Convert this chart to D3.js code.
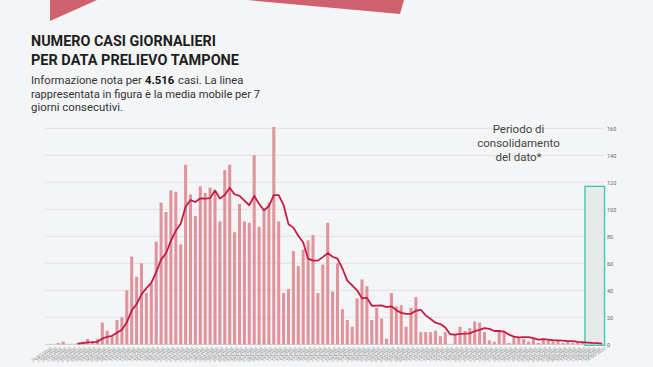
<!DOCTYPE html>
<html>
<head>
<meta charset="utf-8">
<script src="https://cdn.jsdelivr.net/npm/d3@7"></script>
<style>
  html, body { margin: 0; padding: 0; background: #f4f5f7; }
  svg { display: block; }
</style>
</head>
<body>
<svg id="chart" width="653" height="367"></svg>
<script>
// ---------- DATA ----------
const startDate = "2020-02-24";
const dailyCases = [
  0, 0, 1, 2, 0, 0, 1, 2, 4, 2,
  4, 16, 10, 6, 18, 20, 40, 65, 50, 60,
  38, 45, 76, 105, 98, 114, 113, 74, 133, 111,
  95, 117, 112, 116, 114, 91, 129, 133, 83, 104,
  91, 90, 140, 87, 100, 105, 161, 91, 38, 41,
  69, 58, 70, 77, 81, 38, 59, 90, 39, 60,
  26, 18, 13, 34, 48, 43, 18, 27, 19, 4,
  38, 28, 29, 13, 27, 35, 9, 9, 9, 10,
  6, 9, 0, 7, 13, 10, 12, 17, 16, 9,
  3, 2, 10, 9, 1, 6, 5, 4, 2, 5,
  1, 4, 3, 2, 3, 1, 2, 1, 1, 1,
  0, 1, 0, 0
];
const yTicks = [0, 20, 40, 60, 80, 100, 120, 140, 160];
const consolidationDays = 4;
const consolidationTop = 117;
const titleLines = ["NUMERO CASI GIORNALIERI", "PER DATA PRELIEVO TAMPONE"];
const noteLines = ["rappresentata in figura è la media mobile per 7", "giorni consecutivi."];
const consolidationLabel = ["Periodo di", "consolidamento", "del dato*"];
const totalCases = "4.516";

// ---------- DERIVED ----------
const parse = d3.timeParse("%Y-%m-%d");
const fmt = d3.timeFormat("%d/%m/%Y");
const dates = dailyCases.map((_, i) => d3.timeDay.offset(parse(startDate), i));
const labels = dates.map(fmt);
const movingAvg = dailyCases.map((_, i) => i < 6 ? null : d3.mean(dailyCases.slice(i - 6, i + 1)));

// ---------- DRAW ----------
const svg = d3.select("#chart");

// decorative shapes
svg.append("polygon").attr("points", "50,0 97,0 50,21").attr("fill", "#cf616f");
svg.append("polygon").attr("points", "247,0 404,0 400,14").attr("fill", "#cf616f");

// title
const title = svg.append("g").attr("font-family", "Roboto, 'DejaVu Sans', sans-serif")
  .attr("font-weight", 700).attr("fill", "#1e1e1e").attr("font-size", 15.5);
title.append("text").attr("x", 31).attr("y", 46).text(titleLines[0])
  .attr("textLength", 185).attr("lengthAdjust", "spacingAndGlyphs");
title.append("text").attr("x", 31).attr("y", 65).text(titleLines[1])
  .attr("textLength", 208).attr("lengthAdjust", "spacingAndGlyphs");

// note
const note = svg.append("g").attr("font-family", "Roboto, 'DejaVu Sans', sans-serif")
  .attr("font-size", 11.3).attr("fill", "#333");
const l1 = note.append("text").attr("x", 31).attr("y", 84);
l1.append("tspan").text("Informazione nota per");
l1.append("tspan").attr("x", 145).attr("font-weight", 700).attr("fill", "#111").text(totalCases);
l1.append("tspan").attr("x", 178).text("casi. La linea");
note.append("text").attr("x", 31).attr("y", 97.7).text(noteLines[0])
  .attr("textLength", 229).attr("lengthAdjust", "spacingAndGlyphs");
note.append("text").attr("x", 31).attr("y", 111.3).text(noteLines[1])
  .attr("textLength", 92).attr("lengthAdjust", "spacingAndGlyphs");

// scales
const x = d3.scaleBand().domain(labels).range([45.95, 604.55]).paddingInner(0.38).paddingOuter(0.19);
const y = d3.scaleLinear().domain([0, 160]).range([344.3, 128.3]);

// grid
const grid = svg.append("g");
grid.selectAll("line").data(yTicks).join("line")
  .attr("x1", 45).attr("x2", 604)
  .attr("y1", d => y(d)).attr("y2", d => y(d))
  .attr("stroke", d => d === 0 ? "#c8c8c8" : "#e1e2e4").attr("stroke-width", 1);

// right axis
const yAxis = d3.axisRight(y).tickValues(yTicks).tickSize(0).tickPadding(0);
const ya = svg.append("g").attr("transform", "translate(607,0)").call(yAxis);
ya.select(".domain").remove();
ya.selectAll("text").attr("font-size", 5.5).attr("fill", "#666")
  .attr("font-family", "Roboto, 'DejaVu Sans', sans-serif");

// consolidation rect
const lastLabels = labels.slice(-consolidationDays);
const step = x.step();
const rx0 = x(lastLabels[0]) - (step - x.bandwidth()) / 2;
const rx1 = x(lastLabels[lastLabels.length - 1]) + x.bandwidth() + (step - x.bandwidth()) / 2;
svg.append("rect")
  .attr("x", rx0).attr("y", y(consolidationTop))
  .attr("width", rx1 - rx0).attr("height", y(0) - y(consolidationTop) + 1)
  .attr("fill", "#e8eae9").attr("stroke", "#3ec9b4").attr("stroke-width", 1.4);

// bars
svg.append("g").selectAll("rect").data(dailyCases).join("rect")
  .attr("x", (d, i) => x(labels[i]))
  .attr("width", x.bandwidth())
  .attr("y", d => y(d))
  .attr("height", d => y(0) - y(d))
  .attr("fill", "#e0939a");

// moving average line
const line = d3.line()
  .defined(d => d !== null)
  .x((d, i) => x(labels[i]) + x.bandwidth() / 2)
  .y(d => y(d));
svg.append("path").datum(movingAvg)
  .attr("d", line).attr("fill", "none")
  .attr("stroke", "#c41c45").attr("stroke-width", 1.8).attr("stroke-linejoin", "round");

// x axis labels
const xAxis = d3.axisBottom(x).tickSize(0).tickPadding(0);
const xa = svg.append("g").attr("transform", "translate(2,347)").call(xAxis);
xa.select(".domain").remove();
xa.selectAll("text")
  .attr("font-size", 4.3).attr("fill", "#8a8a8a")
  .attr("font-family", "Roboto, 'DejaVu Sans', sans-serif")
  .attr("text-anchor", "end")
  .attr("dy", "0.7em")
  .attr("transform", "rotate(-33)");

// consolidation label
const cl = svg.append("g").attr("font-family", "Roboto, 'DejaVu Sans', sans-serif")
  .attr("font-size", 11.5).attr("fill", "#444").attr("text-anchor", "middle");
consolidationLabel.forEach((t, i) => {
  cl.append("text").attr("x", 518.5).attr("y", 133.3 + i * 14).text(t);
});
</script>
</body>
</html>
